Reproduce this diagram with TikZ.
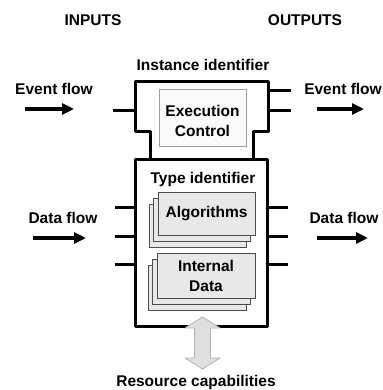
\documentclass[tikz,border=0pt]{standalone}
\usepackage{fontspec}
\setmainfont{Liberation Sans}
\usetikzlibrary{arrows.meta}
\begin{document}
\begin{tikzpicture}[x=1pt,y=-1pt,
  lbl/.style={font=\fontsize{15.5}{20}\selectfont\bfseries, inner sep=0pt, align=center},
  outline/.style={line width=3pt, line join=round},
  stub/.style={line width=3pt},
  flow/.style={line width=3.5pt, -{Triangle[length=12pt,width=11pt]}},
  execbox/.style={draw=gray!75, line width=0.9pt, fill=gray!4, inner sep=0pt},
  card/.style={draw=gray!60!black, line width=0.8pt, fill=gray!18, inner sep=0pt, align=center, font=\fontsize{15.5}{20}\selectfont\bfseries},
  resarrow/.style={fill=gray!25, draw=gray!60, line width=0.8pt, line join=round},
]
\useasboundingbox (0,0) rectangle (382,390);

% headings
\node[lbl] (inputs) at (93,20) {INPUTS};
\node[lbl] (outputs) at (305,20) {OUTPUTS};
\node[lbl] (instid) at (203,65) {Instance identifier};
\node[lbl] (evl) at (54,89) {Event flow};
\node[lbl] (evr) at (343,89) {Event flow};
\node[lbl] (dfl) at (63,218) {Data flow};
\node[lbl] (dfr) at (344,218) {Data flow};
\node[lbl] (res) at (196,382) {Resource capabilities};

% flow arrows
\coordinate (ea1) at (25,109); \coordinate (ea2) at (74,109);
\coordinate (eb1) at (317,109); \coordinate (eb2) at (364,109);
\coordinate (da1) at (33,238); \coordinate (da2) at (86,238);
\coordinate (db1) at (317,238); \coordinate (db2) at (368,238);
\draw[flow] (ea1) -- (ea2);
\draw[flow] (eb1) -- (eb2);
\draw[flow] (da1) -- (da2);
\draw[flow] (db1) -- (db2);

% head outline
\draw[outline] (150,159) -- (150,132) -- (135,132) -- (135,82) -- (268,82) -- (268,132) -- (253,132) -- (253,159);
% body
\draw[outline] (135,159) rectangle (267,326);

% event stubs
\draw[stub] (113,111) -- (135,111);
\draw[stub] (268,91) -- (291,91);
\draw[stub] (268,111) -- (291,111);
% data stubs
\foreach \yy in {207,236,264} {
  \draw[stub] (115,\yy) -- (135,\yy);
  \draw[stub] (267,\yy) -- (288,\yy);
}

% execution control
\node[execbox, minimum width=87pt, minimum height=57pt] (exec) at (202.5,117.5) {};
\node[lbl] (exectxt) at (202.5,121) {Execution\\Control};

% type identifier
\node[lbl] (typeid) at (203,179) {Type identifier};

% algorithms stack
\node[card, minimum width=97pt, minimum height=43pt] (alg3) at (197.5,225.5) {};
\node[card, minimum width=97pt, minimum height=43pt] (alg2) at (202,219.5) {};
\node[card, minimum width=97pt, minimum height=43pt] (alg) at (206.5,213.5) {Algorithms};

% internal data stack
\node[card, minimum width=98pt, minimum height=45pt] (int3) at (197,287.5) {};
\node[card, minimum width=98pt, minimum height=45pt] (int2) at (201.5,281.5) {};
\node[card, minimum width=98pt, minimum height=45pt] (int) at (206,275.5) {Internal\\Data};

% resource arrow
\draw[resarrow] (202.5,317) -- (220,328) -- (210.5,328) -- (210.5,358) -- (220,358) -- (202.5,369) -- (185,358) -- (194.5,358) -- (194.5,328) -- (185,328) -- cycle;
\end{tikzpicture}
\end{document}
